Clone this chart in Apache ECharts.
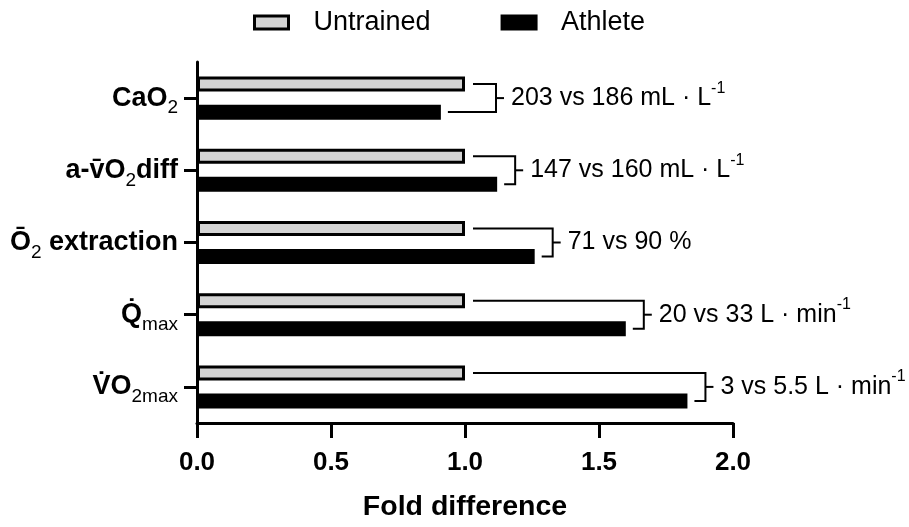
<!DOCTYPE html>
<html>
<head>
<meta charset="utf-8">
<script src="https://cdn.jsdelivr.net/npm/echarts@6/dist/echarts.min.js"></script>
<style>
  html, body { margin: 0; padding: 0; background: #fff; }
  #chart { width: 909px; height: 527px; }
</style>
</head>
<body>
<div id="chart"></div>
<script>
// Oxygen transport variables, top to bottom
const categories = ['CaO2', 'a-vO2diff', 'O2 extraction', 'Qmax', 'VO2max'];
// Fold difference relative to untrained
const untrained = [1, 1, 1, 1, 1];
const athlete = [0.91, 1.12, 1.26, 1.6, 1.83];
// Absolute values for the bracket annotations
const untrainedAbs = ['203', '147', '71', '20', '3'];
const athleteAbs = ['186', '160', '90', '33', '5.5'];
const unitText = ['mL · L', 'mL · L', '%', 'L · min', 'L · min'];
const unitExp = ['-1', '-1', '', '-1', '-1'];
const xTicks = [0, 0.5, 1, 1.5, 2];

const FONT = 'Liberation Sans, Arial, sans-serif';

// Category labels with subscripts, overlines and dots
const labelMarkup = {
  'CaO2': '{b|CaO}{s|2}',
  'a-vO2diff': '{b|a-v\u0304O}{s|2}{b|diff}',
  'O2 extraction': '{b|\u014C}{s|2}{b| extraction}',
  'Qmax': '{b|Q\u0307}{s|max}',
  'VO2max': '{b|V\u0307O}{s|2max}'
};

const chart = echarts.init(document.getElementById('chart'), null, { renderer: 'canvas' });

const bracketData = categories.map((c, i) => [i, untrained[i], athlete[i]]);

const BAR_W = 15;
const HALF_SPACING = 14; // distance from category centre to each bar centre

const option = {
  backgroundColor: '#ffffff',
  animation: false,
  textStyle: { fontFamily: FONT, color: '#000' },
  legend: {
    top: 9,
    left: 253,
    padding: 0,
    itemWidth: 34,
    itemHeight: 13,
    itemGap: 70,
    textStyle: { fontSize: 27, color: '#000', fontFamily: FONT, padding: [0, 0, 0, 20] },
    data: [
      { name: 'Untrained', icon: 'rect', itemStyle: { color: '#d3d3d3', borderColor: '#000', borderWidth: 3 } },
      { name: 'Athlete', icon: 'rect', itemStyle: { color: '#000', borderColor: '#000', borderWidth: 3 } }
    ]
  },
  grid: { left: 197, right: 176, top: 62, bottom: 103, containLabel: false },
  xAxis: {
    type: 'value',
    min: 0,
    max: 2,
    interval: 0.5,
    name: 'Fold difference',
    nameLocation: 'middle',
    nameGap: 70,
    nameTextStyle: { fontSize: 28.5, fontWeight: 'bold', color: '#000', fontFamily: FONT },
    axisLine: { show: true, lineStyle: { color: '#000', width: 3 } },
    axisTick: { show: true, length: 15, lineStyle: { color: '#000', width: 3 } },
    axisLabel: {
      fontSize: 26, fontWeight: 'bold', color: '#000', margin: 27, fontFamily: FONT,
      formatter: v => xTicks.includes(v) ? v.toFixed(1) : ''
    },
    splitLine: { show: false }
  },
  yAxis: {
    type: 'category',
    inverse: true,
    data: categories,
    axisLine: { show: true, lineStyle: { color: '#000', width: 3 } },
    axisTick: { show: true, alignWithLabel: true, length: 13, lineStyle: { color: '#000', width: 3 } },
    axisLabel: {
      margin: 19,
      color: '#000',
      formatter: v => labelMarkup[v],
      rich: {
        b: { fontSize: 27, fontWeight: 'bold', color: '#000', fontFamily: FONT, verticalAlign: 'middle' },
        s: { fontSize: 19, fontWeight: 'normal', color: '#000', fontFamily: FONT, verticalAlign: 'middle', padding: [20, 0, 0, 0] }
      }
    },
    splitLine: { show: false }
  },
  series: [
    {
      name: 'Untrained',
      type: 'bar',
      data: untrained,
      barWidth: BAR_W,
      barGap: '87%',
      itemStyle: { color: '#d3d3d3', borderColor: '#000', borderWidth: 3 }
    },
    {
      name: 'Athlete',
      type: 'bar',
      data: athlete,
      barWidth: BAR_W,
      barGap: '87%',
      itemStyle: { color: '#000', borderColor: '#000', borderWidth: 3 }
    },
    {
      name: 'brackets',
      type: 'custom',
      silent: true,
      clip: false,
      encode: { x: [1, 2], y: 0 },
      data: bracketData,
      renderItem: function (params, api) {
        const i = api.value(0);
        const u = api.value(1);
        const a = api.value(2);
        const cy = api.coord([0, i])[1];
        const uEnd = api.coord([u, i])[0];
        const aEnd = api.coord([a, i])[0];
        const uy = cy - HALF_SPACING;
        const ay = cy + HALF_SPACING;
        const bx = Math.max(uEnd + 31, aEnd + 18);
        const idx = params.dataIndex;
        const exp = unitExp[idx];
        const txt = '{n|' + untrainedAbs[idx] + ' vs ' + athleteAbs[idx] + ' ' + unitText[idx] + '}' +
          (exp ? '{e|' + exp + '}' : '');
        const lineStyle = { stroke: '#000', lineWidth: 2, fill: null };
        return {
          type: 'group',
          children: [
            {
              type: 'polyline',
              shape: { points: [[uEnd + 8, uy], [bx, uy], [bx, ay], [aEnd + 7, ay]] },
              style: lineStyle
            },
            {
              type: 'line',
              shape: { x1: bx, y1: cy, x2: bx + 8, y2: cy },
              style: lineStyle
            },
            {
              type: 'text',
              x: bx + 15,
              y: cy,
              style: {
                text: txt,
                fill: '#000',
                verticalAlign: 'middle',
                align: 'left',
                rich: {
                  n: { fontSize: 25, fontFamily: FONT, fill: '#000', verticalAlign: 'middle' },
                  e: { fontSize: 16, fontFamily: FONT, fill: '#000', verticalAlign: 'middle', padding: [0, 0, 20, 0] }
                }
              }
            }
          ]
        };
      }
    }
  ]
};

chart.setOption(option);
</script>
</body>
</html>
